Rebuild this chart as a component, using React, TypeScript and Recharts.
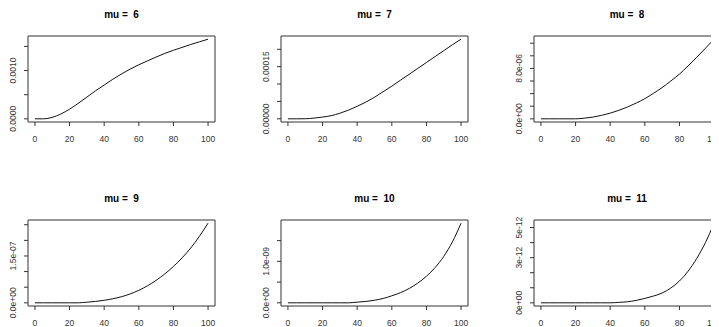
import React from "react";
import { LineChart, Line, XAxis, YAxis, ReferenceArea } from "recharts";

// ---- data ----
const xs = [0, 5, 10, 15, 20, 25, 30, 35, 40, 45, 50, 55, 60, 65, 70, 75, 80, 85, 90, 95, 100];

const mu6 = [0, 0, 0.03e-3, 0.1e-3, 0.2e-3, 0.32e-3, 0.45e-3, 0.58e-3, 0.7e-3, 0.82e-3, 0.93e-3, 1.03e-3, 1.12e-3, 1.2e-3, 1.28e-3, 1.355e-3, 1.42e-3, 1.48e-3, 1.54e-3, 1.595e-3, 1.65e-3];
const mu7 = [0, 0, 0.02e-5, 0.2e-5, 0.5e-5, 0.9e-5, 1.6e-5, 2.5e-5, 3.6e-5, 4.8e-5, 6.2e-5, 7.8e-5, 9.4e-5, 11.1e-5, 12.8e-5, 14.5e-5, 16.2e-5, 17.9e-5, 19.6e-5, 21.3e-5, 22.9e-5];
const mu8 = [0, 0, 0, 0, 0, 0.1e-6, 0.27e-6, 0.55e-6, 0.9e-6, 1.35e-6, 1.87e-6, 2.5e-6, 3.2e-6, 4.05e-6, 4.96e-6, 6.0e-6, 7.1e-6, 8.4e-6, 9.76e-6, 11.2e-6, 12.64e-6];
const mu9 = [0, 0, 0, 0, 0, 0, 0.2e-8, 0.45e-8, 0.8e-8, 1.3e-8, 1.95e-8, 2.85e-8, 4.0e-8, 5.45e-8, 7.2e-8, 9.25e-8, 11.65e-8, 14.4e-8, 17.55e-8, 21.3e-8, 25.5e-8];
const mu10 = [0, 0, 0, 0, 0, 0, 0, 0, 0.16e-10, 0.33e-10, 0.62e-10, 1.05e-10, 1.69e-10, 2.45e-10, 3.45e-10, 4.75e-10, 6.4e-10, 8.5e-10, 11.2e-10, 14.7e-10, 19.2e-10];
const mu11 = [0, 0, 0, 0, 0, 0, 0, 0, 0, 0.03e-12, 0.07e-12, 0.16e-12, 0.29e-12, 0.45e-12, 0.65e-12, 0.98e-12, 1.45e-12, 2.1e-12, 2.95e-12, 4.0e-12, 5.29e-12];

const xTicks = [0, 20, 40, 60, 80, 100];

const titles = ["mu =  6", "mu =  7", "mu =  8", "mu =  9", "mu =  10", "mu =  11"];

const yTicks6 = [0, 0.0005, 0.001, 0.0015];
const yLabels6 = ["0.0000", "", "0.0010", ""];
const yTicks7 = [0, 0.00005, 0.0001, 0.00015, 0.0002];
const yLabels7 = ["0.00000", "", "", "0.00015", ""];
const yTicks8 = [0, 2e-6, 4e-6, 6e-6, 8e-6, 1e-5, 1.2e-5];
const yLabels8 = ["0.0e+00", "", "", "", "8.0e-06", "", ""];
const yTicks9 = [0, 5e-8, 1e-7, 1.5e-7, 2e-7, 2.5e-7];
const yLabels9 = ["0.0e+00", "", "", "1.5e-07", "", ""];
const yTicks10 = [0, 5e-10, 1e-9, 1.5e-9];
const yLabels10 = ["0.0e+00", "", "1.0e-09", ""];
const yTicks11 = [0, 1e-12, 2e-12, 3e-12, 4e-12, 5e-12];
const yLabels11 = ["0e+00", "", "", "3e-12", "", "5e-12"];

// ---- layout ----
const FONT = "'Liberation Sans', Arial, sans-serif";
const CW = 240;
const CH = 165;
const BOX_L = 28;
const BOX_T = 36;
const BOX_W = 187;
const BOX_H = 86;
const INK = "#333";

type PanelSpec = {
  title: string;
  values: number[];
  ticks: number[];
  labels: string[];
  left: number;
  top: number;
};

const panels: PanelSpec[] = [
  { title: titles[0], values: mu6, ticks: yTicks6, labels: yLabels6, left: 0, top: 0 },
  { title: titles[1], values: mu7, ticks: yTicks7, labels: yLabels7, left: 253, top: 0 },
  { title: titles[2], values: mu8, ticks: yTicks8, labels: yLabels8, left: 505.5, top: 0 },
  { title: titles[3], values: mu9, ticks: yTicks9, labels: yLabels9, left: 0, top: 184 },
  { title: titles[4], values: mu10, ticks: yTicks10, labels: yLabels10, left: 253, top: 184 },
  { title: titles[5], values: mu11, ticks: yTicks11, labels: yLabels11, left: 505.5, top: 184 },
];

const XTick = (props: any) => {
  const { x, y, payload } = props;
  return (
    <text x={x} y={y + 13} textAnchor="middle" dominantBaseline="central" fontSize={8.5} fontFamily={FONT} fill={INK}>
      {payload.value}
    </text>
  );
};

const makeYTick = (ticks: number[], labels: string[]) => (props: any) => {
  const { x, y, payload } = props;
  let idx = typeof props.index === "number" ? props.index : -1;
  const v = payload.value;
  const found = ticks.findIndex((t) => Math.abs(t - v) <= Math.abs(ticks[ticks.length - 1]) * 1e-6);
  if (found >= 0) idx = found;
  const label = idx >= 0 ? labels[idx] : "";
  if (!label) return <g />;
  const cx = x - 11;
  return (
    <text
      x={cx}
      y={y}
      transform={`rotate(-90, ${cx}, ${y})`}
      textAnchor="middle"
      dominantBaseline="central"
      fontSize={8.5}
      fontFamily={FONT}
      fill={INK}
    >
      {label}
    </text>
  );
};

const Panel = ({ spec }: { spec: PanelSpec }) => {
  const data = xs.map((x, i) => ({ x, y: spec.values[i] }));
  const m = Math.max(...spec.values);
  const lo = -0.04 * m;
  const hi = 1.04 * m;
  const bottomMargin = CH - BOX_T - BOX_H - 30;
  return (
    <div style={{ position: "absolute", left: spec.left, top: spec.top, width: CW, height: CH }}>
      <div
        style={{
          position: "absolute",
          left: BOX_L,
          width: BOX_W,
          top: 8,
          textAlign: "center",
          fontFamily: FONT,
          fontWeight: "bold",
          fontSize: 10,
          lineHeight: "14px",
          color: "#000",
          whiteSpace: "pre",
        }}
      >
        {spec.title}
      </div>
      <LineChart
        width={CW}
        height={CH}
        data={data}
        margin={{ top: BOX_T, right: CW - BOX_L - BOX_W, bottom: bottomMargin, left: 0 }}
      >
        <XAxis
          dataKey="x"
          type="number"
          domain={[-4, 104]}
          ticks={xTicks}
          allowDataOverflow
          axisLine={false}
          tickLine={{ stroke: INK }}
          tickSize={4}
          tickMargin={0}
          height={30}
          tick={<XTick />}
          interval={0}
        />
        <YAxis
          type="number"
          domain={[lo, hi]}
          ticks={spec.ticks}
          allowDataOverflow
          axisLine={false}
          tickLine={{ stroke: INK }}
          tickSize={4}
          tickMargin={0}
          width={BOX_L}
          interval={0}
          tick={makeYTick(spec.ticks, spec.labels)}
        />
        <ReferenceArea x1={-4} x2={104} y1={lo} y2={hi} fill="none" stroke={INK} strokeWidth={1} fillOpacity={0} ifOverflow="visible" />
        <Line
          type="monotone"
          dataKey="y"
          stroke="#111"
          strokeWidth={1}
          dot={false}
          isAnimationActive={false}
        />
      </LineChart>
    </div>
  );
};

export default function App() {
  return (
    <div
      style={{
        position: "relative",
        width: 719,
        height: 327,
        marginLeft: -8,
        marginTop: -8,
        overflow: "hidden",
        background: "#fff",
      }}
    >
      {panels.map((p, i) => (
        <Panel key={i} spec={p} />
      ))}
    </div>
  );
}
